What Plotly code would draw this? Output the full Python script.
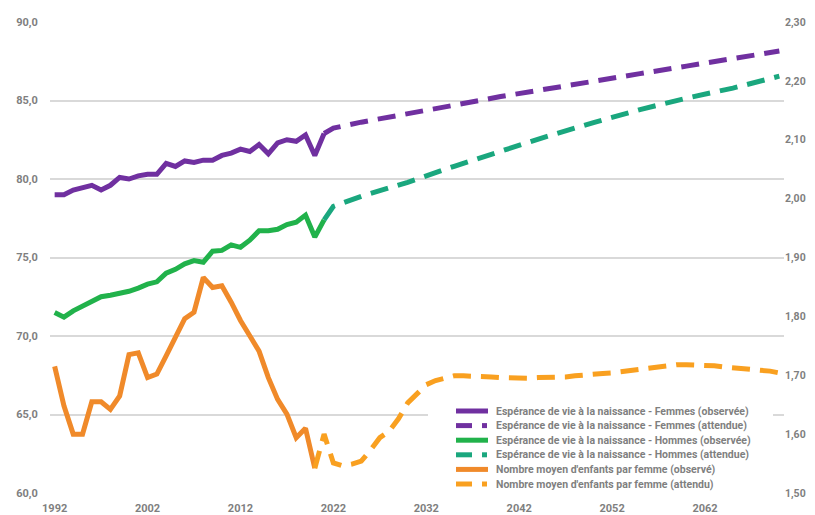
import plotly.graph_objects as go

# ---------------- data ----------------
years_obs = list(range(1992, 2022))
women_obs = [79.0, 79.0, 79.3, 79.45, 79.6, 79.3, 79.6, 80.1, 80.0, 80.2,
             80.3, 80.3, 81.0, 80.8, 81.15, 81.05, 81.2, 81.2, 81.5, 81.65,
             81.9, 81.75, 82.2, 81.6, 82.3, 82.5, 82.4, 82.8, 81.5, 82.9]
men_obs = [71.5, 71.2, 71.6, 71.9, 72.2, 72.5, 72.6, 72.7, 72.85, 73.05,
           73.3, 73.45, 74.0, 74.25, 74.6, 74.8, 74.7, 75.4, 75.45, 75.8,
           75.65, 76.1, 76.7, 76.7, 76.8, 77.1, 77.25, 77.7, 76.3, 77.4]

years_proj_le = [2021, 2022, 2025, 2030, 2035, 2040, 2045, 2050, 2055, 2060, 2065, 2070]
women_proj = [82.9, 83.24, 83.62, 84.13, 84.7, 85.25, 85.76, 86.23, 86.71, 87.19, 87.64, 88.15]
men_proj = [77.4, 78.26, 78.9, 79.79, 80.81, 81.77, 82.72, 83.59, 84.42, 85.15, 85.79, 86.55]

years_fert_obs = list(range(1992, 2021))
fert_obs = [1.715, 1.648, 1.600, 1.600, 1.655, 1.655, 1.642, 1.665, 1.735, 1.738,
            1.696, 1.702, 1.733, 1.767, 1.796, 1.807, 1.866, 1.849, 1.852, 1.824,
            1.793, 1.767, 1.741, 1.696, 1.659, 1.634, 1.594, 1.610, 1.542]

years_fert_proj = list(range(2020, 2071))
fert_proj = [1.542, 1.600, 1.551, 1.546, 1.549, 1.554, 1.573, 1.594, 1.605, 1.626,
             1.653, 1.670, 1.684, 1.691, 1.696, 1.699, 1.699, 1.699, 1.698, 1.697,
             1.696, 1.695, 1.694, 1.695, 1.696, 1.696, 1.696, 1.697, 1.699, 1.701,
             1.703, 1.703, 1.704, 1.706, 1.709, 1.711, 1.713, 1.714, 1.716, 1.718,
             1.718, 1.718, 1.718, 1.716, 1.714, 1.713, 1.711, 1.710, 1.709, 1.707,
             1.704]

x_tick_vals = [1992, 2002, 2012, 2022, 2032, 2042, 2052, 2062]
x_tick_labels = ["1992", "2002", "2012", "2022", "2032", "2042", "2052", "2062"]

names = [
    "Espérance de vie à la naissance - Femmes (observée)",
    "Espérance de vie à la naissance - Femmes (attendue)",
    "Espérance de vie à la naissance - Hommes (observée)",
    "Espérance de vie à la naissance - Hommes (attendue)",
    "Nombre moyen d'enfants par femme (observé)",
    "Nombre moyen d'enfants par femme (attendu)",
]

# ---------------- style ----------------
PURPLE = "#7030A0"
GREEN = "#21B24B"
TEAL = "#1AA77E"
ORANGE = "#F08A2A"
ORANGE2 = "#F9A020"
GRAY = "#7F7F7F"
FONT = "Roboto, sans-serif"
LW = 5
DASH = "18px,10px"

colors = [PURPLE, PURPLE, GREEN, TEAL, ORANGE, ORANGE2]
dashed = [False, True, False, True, False, True]

# the page body adds an 8px margin, so the figure is 8px smaller on each axis
OFF = 8
W, H = 807, 507
ML, MR, MT, MB = 42, 31, 14, 22
PW, PH = W - ML - MR, H - MT - MB

fig = go.Figure()
fig.add_trace(go.Scatter(x=years_obs, y=women_obs, name=names[0], mode="lines",
                         line=dict(color=PURPLE, width=LW), yaxis="y"))
fig.add_trace(go.Scatter(x=years_proj_le, y=women_proj, name=names[1], mode="lines",
                         line=dict(color=PURPLE, width=LW, dash=DASH), yaxis="y"))
fig.add_trace(go.Scatter(x=years_obs, y=men_obs, name=names[2], mode="lines",
                         line=dict(color=GREEN, width=LW), yaxis="y"))
fig.add_trace(go.Scatter(x=years_proj_le, y=men_proj, name=names[3], mode="lines",
                         line=dict(color=TEAL, width=LW, dash=DASH), yaxis="y"))
fig.add_trace(go.Scatter(x=years_fert_obs, y=fert_obs, name=names[4], mode="lines",
                         line=dict(color=ORANGE, width=LW), yaxis="y2"))
fig.add_trace(go.Scatter(x=years_fert_proj, y=fert_proj, name=names[5], mode="lines",
                         line=dict(color=ORANGE2, width=LW, dash=DASH), yaxis="y2"))


# ---------------- legend (drawn as a box of keys + texts) ----------------
def px_x(px):
    return (px - OFF - ML) / PW


def px_y(py):
    return (H - MB - (py - OFF)) / PH


shapes = [dict(type="rect", xref="paper", yref="paper", layer="above",
               x0=px_x(428), x1=px_x(773), y0=px_y(491), y1=px_y(401),
               fillcolor="white", line=dict(width=0))]
annotations = []
row_y = [411, 425.6, 440.2, 454.8, 469.4, 484]
for name, col, is_dash, ry in zip(names, colors, dashed, row_y):
    yy = px_y(ry)
    if is_dash:
        shapes.append(dict(type="line", xref="paper", yref="paper", layer="above",
                           x0=px_x(456), x1=px_x(472), y0=yy, y1=yy,
                           line=dict(color=col, width=LW)))
        shapes.append(dict(type="line", xref="paper", yref="paper", layer="above",
                           x0=px_x(482), x1=px_x(487), y0=yy, y1=yy,
                           line=dict(color=col, width=LW)))
    else:
        shapes.append(dict(type="line", xref="paper", yref="paper", layer="above",
                           x0=px_x(456), x1=px_x(488), y0=yy, y1=yy,
                           line=dict(color=col, width=LW)))
    annotations.append(dict(text=name, xref="paper", yref="paper", x=px_x(494), y=yy,
                            xanchor="left", yanchor="middle", showarrow=False,
                            font=dict(family=FONT, size=10.5, color=GRAY, weight="bold")))

fig.update_layout(
    width=W, height=H,
    margin=dict(l=ML, r=MR, t=MT, b=MB),
    paper_bgcolor="white", plot_bgcolor="white",
    separators=", ",
    font=dict(family=FONT, size=11, color=GRAY, weight="bold"),
    showlegend=False,
    shapes=shapes,
    annotations=annotations,
    xaxis=dict(range=[1991.5, 2070.5], tickvals=x_tick_vals, ticktext=x_tick_labels,
               showgrid=False, zeroline=False, showline=False, automargin=False,
               ticks="outside", ticklen=5, tickcolor="rgba(0,0,0,0)"),
    yaxis=dict(range=[60, 90], dtick=5, tick0=60, tickformat=".1f",
               showgrid=True, gridcolor="#D9D9D9", gridwidth=1.5,
               zeroline=False, showline=False, automargin=False,
               ticks="outside", ticklen=9, tickcolor="rgba(0,0,0,0)"),
    yaxis2=dict(range=[1.5, 2.3], dtick=0.1, tick0=1.5, tickformat=".2f",
                overlaying="y", side="right", showgrid=False, zeroline=False,
                showline=False, automargin=False,
                ticks="", tickfont=dict(family=FONT, size=10.5, color=GRAY, weight="bold")),
)

fig.write_html("out.html")
